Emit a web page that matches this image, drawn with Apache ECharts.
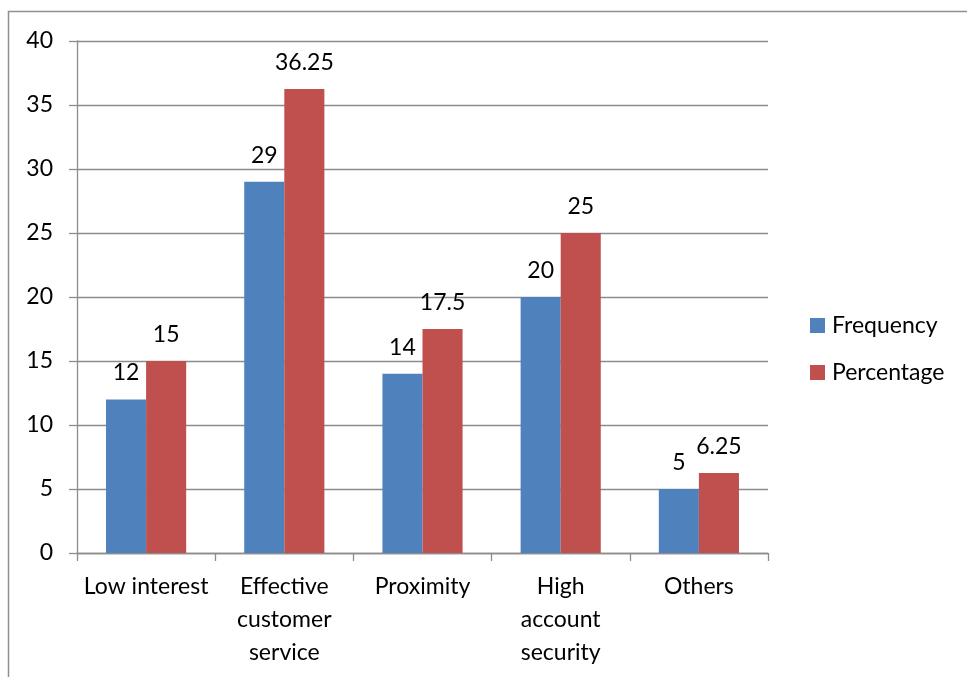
<!DOCTYPE html>
<html>
<head>
<meta charset="utf-8">
<script src="https://cdn.jsdelivr.net/npm/echarts@6/dist/echarts.min.js"></script>
<style>
html,body{margin:0;padding:0;background:#fff;}
#chart{width:967px;height:677px;}
</style>
</head>
<body>
<div id="chart"></div>
<script>
// Reasons for choosing a bank: frequency and percentage of respondents
const categories = ['Low interest', 'Effective\ncustomer\nservice', 'Proximity', 'High\naccount\nsecurity', 'Others'];
const frequency = [12, 29, 14, 20, 5];
const percentage = [15, 36.25, 17.5, 25, 6.25];
const yTicks = [0, 5, 10, 15, 20, 25, 30, 35, 40];

const FONT = 'Lato, "Open Sans", sans-serif';
const FS = 23;
const chart = echarts.init(document.getElementById('chart'));

const labelStyle = {
  show: true,
  position: 'top',
  distance: 15,
  color: '#000',
  fontSize: FS,
  fontFamily: FONT
};

chart.setOption({
  animation: false,
  backgroundColor: '#fff',
  graphic: [{
    type: 'rect',
    shape: { x: 8.5, y: 11.5, width: 1000, height: 800 },
    style: { fill: 'none', stroke: '#8f8f8f', lineWidth: 1.5 },
    silent: true,
    z: -1
  }],
  grid: { left: 77, right: 199, top: 41, bottom: 124 },
  legend: {
    orient: 'vertical',
    left: 805,
    top: 309,
    itemWidth: 15,
    itemHeight: 15,
    itemGap: 24,
    icon: 'rect',
    textStyle: { fontSize: FS, fontFamily: FONT, color: '#000', padding: [0, 0, 0, 2] },
    data: ['Frequency', 'Percentage']
  },
  xAxis: {
    type: 'category',
    data: categories,
    axisLine: { lineStyle: { color: '#8c8c8c', width: 1.3 } },
    axisTick: { show: true, length: 8, lineStyle: { color: '#8c8c8c', width: 1.3 } },
    axisLabel: { color: '#000', fontSize: FS, fontFamily: FONT, lineHeight: 33, margin: 17, interval: 0 }
  },
  yAxis: {
    type: 'value',
    min: yTicks[0],
    max: yTicks[yTicks.length - 1],
    interval: 5,
    axisLine: { show: true, lineStyle: { color: '#8c8c8c', width: 1.3 } },
    axisTick: { show: true, length: 8, lineStyle: { color: '#8c8c8c', width: 1.3 } },
    splitLine: { lineStyle: { color: '#8c8c8c', width: 1.3 } },
    axisLabel: { color: '#000', fontSize: FS, fontFamily: FONT, margin: 24 }
  },
  series: [
    {
      name: 'Frequency',
      type: 'bar',
      data: frequency,
      barGap: '0%',
      barCategoryGap: '42%',
      itemStyle: { color: '#4F81BD' },
      label: labelStyle
    },
    {
      name: 'Percentage',
      type: 'bar',
      data: percentage,
      itemStyle: { color: '#C0504D' },
      label: labelStyle
    }
  ]
});
</script>
</body>
</html>
